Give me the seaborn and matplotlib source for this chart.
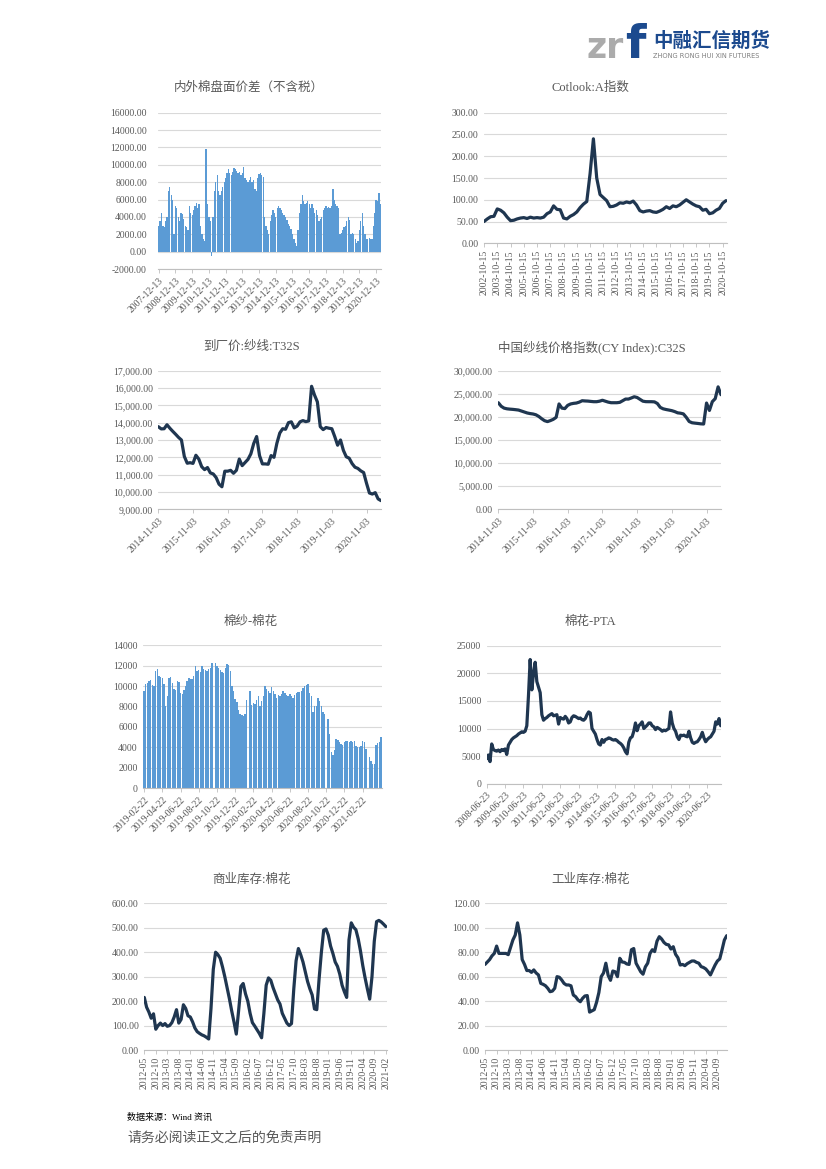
import numpy as np
import pandas as pd
import seaborn as sns
import matplotlib.pyplot as plt

sns.set_theme(style="white")
plt.rcParams['font.family'] = ['Liberation Serif', 'Noto Sans CJK SC', 'DejaVu Sans']
plt.rcParams['axes.unicode_minus'] = False

GRAY = '#595959'
LINE = '#1f3650'
BAR = '#5b9bd5'
GRID = '#d9d9d9'

# 内外棉盘面价差（不含税）, monthly 2007-12 .. 2021-03
spread = [3000,
          3500, 4400, 3000, 2800, 3500, 4000, 7000, 7500, 6500, 6000, 2000, 5300,
          5000, 4000, 3500, 4400, 4300, 3800, 3000, 2800, 2500, 5300, 4500, 4200,
          4800, 5200, 5600, 5000, 5500, 3000, 2000, 1500, 1200, 11800, 5500, 4000,
          3500, -500, 4000, 7000, 8000, 8800, 7000, 6500, 7000, 7500, 8000, 8500,
          9000, 9500, 9000, 8800, 9200, 9600, 9500, 9300, 9000, 9200, 8800, 9000,
          9700, 8500, 8300, 8000, 8200, 8600, 8000, 8300, 7200, 7000, 8500, 8900,
          9000, 8800, 8600, 4000, 3000, 2500, 2000, 3500, 4200, 4800, 4500, 4000,
          5000, 5200, 5000, 4800, 4500, 4200, 4000, 3600, 3200, 3000, 2600, 2000,
          1500, 1000, 600, 2500, 4500, 5500, 6500, 5800, 5500, 5600, 5800, 5500,
          5000, 5500, 5000, 4500, 4800, 4200, 3500, 3800, 4000, 4800, 5000, 5200,
          5000, 5100, 5000, 5200, 7200, 6000, 5500, 5200, 5000, 2000, 2200, 2500,
          2800, 3000, 3500, 4000, 3600, 2000, 2200, 2000, 1500, 1000, 1200, 2500,
          3500, 4500, 3000, 2000, 1500, 1500, 1600, 1400, 1500, 3000, 4500, 6000,
          5800, 6800, 5500]
spread_labels = ['%d-12-13' % y for y in range(2007, 2021)]

# Cotlook:A指数, quarterly 2002-10 .. 2021-01
cotlook = [50, 56, 61, 62, 79, 76, 70, 60, 52, 53,
           56, 58, 59, 57, 60, 58, 59, 58, 60, 68,
           72, 86, 78, 77, 58, 56, 62, 66, 72, 82,
           90, 96, 160, 240, 150, 112, 105, 98, 84, 85,
           88, 93, 92, 95, 93, 97, 88, 75, 72, 74,
           75, 72, 71, 74, 78, 84, 80, 86, 84, 88,
           94, 100, 95, 90, 86, 84, 76, 78, 68, 70,
           76, 80, 92, 98]
cotlook_labels = ['%d-10-15' % y for y in range(2002, 2021)]

# 到厂价:纱线:T32S, monthly 2014-11 .. 2021-04
t32s = [13770, 13640, 13650, 13880, 13680, 13500, 13330, 13150, 13000, 12050,
        11660, 11690, 11650, 12120, 11900, 11460, 11290, 11410, 11100, 11040,
        10830, 10450, 10300, 11200, 11200, 11250, 11080, 11250, 11900, 11520,
        11700, 11880, 12200, 12800, 13200, 12100, 11620, 11620, 11600, 12100,
        12000, 12810, 13400, 13650, 13620, 14000, 14050, 13700, 13800, 14050,
        14120, 14060, 14100, 16100, 15600, 15200, 13770, 13600, 13720, 13680,
        13650, 13200, 12700, 13000, 12400, 12030, 11950, 11640, 11430, 11360,
        11220, 11120, 10500, 9940, 9880, 9960, 9600, 9500]
yarn_labels = ['%d-11-03' % y for y in range(2014, 2021)]

# 中国纱线价格指数(CY Index):C32S, monthly 2014-11 .. 2021-04
cy32 = [23070, 22300, 21900, 21750, 21680, 21630, 21560, 21480, 21270, 21060,
        20850, 20720, 20630, 20460, 20100, 19600, 19180, 18980, 19200, 19470,
        19900, 22800, 21900, 21800, 22500, 22800, 22930, 23000, 23200, 23500,
        23450, 23420, 23350, 23290, 23290, 23400, 23600, 23400, 23200, 23070,
        23070, 23070, 23150, 23500, 23860, 23860, 24100, 24360, 24200, 23800,
        23400, 23300, 23290, 23290, 23250, 22900, 22060, 21750, 21600, 21480,
        21350, 21150, 20880, 20800, 20650, 19900, 19000, 18730, 18650, 18580,
        18500, 18460, 23000, 21400, 23300, 23950, 26500, 24800]

# 棉纱-棉花, weekly 2019-02 .. 2021-04 (None = no data)
yarn_cotton = [9500, 10200, 10300, 10500, 10600, 10100, 10000, 11500, 11700, 11000,
               10900, 10800, 10200, 8000, 9000, 10800, 10900, 10300, 9700, 9600,
               10500, 10400, 9300, 9200, 9600, 10000, 10500, 10800, 10700, 10700,
               11000, 12000, 11500, 11600, 11400, 12000, 11700, 11600, 11500, 11700,
               11800, 12300, None, 12300, 12000, 11800, 11600, 11400, 11300, 11800,
               12200, 12100, 11500, 10000, 9500, 8700, 8400, 7700, 7300, 7200,
               7100, 7300, 8600, None, 9500, 8100, 8300, 8200, 8600, 9000,
               8000, 8500, 9000, 10000, 9700, 9500, 9300, 9900, 9500, 9200,
               8800, 9100, 9000, 9200, 9500, 9300, 9100, 9000, 9200, 9000,
               8800, 9100, 9300, 9400, 9400, 9500, 9800, 10000, 10100, 10200,
               9300, 9000, 7500, 8000, 8000, 8800, 8500, 8000, 7500, 7300,
               None, 6800, 5300, 3500, 3200, 3700, 4800, 4700, 4500, 4300,
               4200, 4500, 4600, 4600, 4500, 4600, 4500, 4600, 4100, 4000,
               4000, 4100, 4600, 4500, 3800, None, 3000, 2600, 2400, 2400,
               4200, 4400, 4500, 5000]
yc_labels = ['2019-02-22', '2019-04-22', '2019-06-22', '2019-08-22', '2019-10-22',
             '2019-12-22', '2020-02-22', '2020-04-22', '2020-06-22', '2020-08-22',
             '2020-10-22', '2020-12-22', '2021-02-22']

# 棉花-PTA, 2008-06 .. 2021-03
cotton_pta = [4500, 5200, 4000, 7200, 6200, 6000, 5900, 6100, 5800, 6200,
              6000, 6300, 5300, 7000, 7500, 8000, 8300, 8500, 8700, 9000,
              9200, 9400, 9300, 9500, 10500, 16000, 22500, 17000, 20000, 22000,
              18500, 17500, 16500, 12500, 11500, 11800, 12000, 12300, 12500, 12700,
              12300, 12400, 12500, 10800, 12000, 11800, 11700, 12200, 11800, 11000,
              11200, 12000, 12300, 12200, 12000, 11800, 11900, 11600, 11500, 11800,
              12500, 13000, 12800, 10000, 9500, 9000, 8000, 7200, 7000, 8000,
              7500, 8000, 8100, 8300, 8200, 8000, 7900, 8000, 7800, 7500,
              7300, 7000, 6500, 5800, 5400, 7500, 8300, 8500, 9500, 11000,
              9600, 10500, 10800, 11200, 10000, 10300, 10600, 11000, 11000, 10500,
              10300, 9800, 10200, 10000, 9800, 9500, 9700, 9600, 9800, 10000,
              13000, 11000, 10000, 9500, 8500, 8000, 8800, 8700, 8800, 8600,
              8500, 9500, 8300, 7500, 7300, 7500, 7600, 8000, 8500, 9300,
              8300, 7600, 8000, 8300, 8500, 9000, 9500, 11200, 10800, 11800,
              10500]
pta_labels = ['%d-06-23' % y for y in range(2008, 2021)]

# 商业库存:棉花, monthly 2012-05 .. 2021-02
comm_inv = [215, 175, 155, 130, 148, 85, 100, 110, 100, 108,
            97, 100, 112, 135, 165, 110, 125, 185, 170, 140,
            135, 115, 90, 75, 68, 62, 58, 52, 45, 170,
            330, 400, 390, 375, 340, 300, 255, 210, 160, 115,
            65, 160, 260, 272, 230, 200, 150, 112, 98, 83,
            68, 50, 150, 265, 295, 285, 255, 230, 205, 188,
            150, 130, 110, 100, 108, 250, 365, 415, 390, 360,
            320, 280, 250, 225, 168, 165, 290, 400, 490, 495,
            470, 425, 395, 360, 342, 310, 265, 238, 215, 450,
            520, 502, 492, 455, 405, 345, 295, 250, 208, 300,
            445, 525, 530, 524, 515, 505]

# 工业库存:棉花, monthly 2012-05 .. 2021-01
ind_inv = [70, 72, 74, 77, 79, 85, 79, 79, 79, 79,
           78, 84, 90, 94, 104, 94, 74, 70, 65, 65,
           63.5, 65.5, 63, 61.4, 54.5, 53.7, 52.6, 50.5, 47.7, 48.2,
           50.5, 60, 59.5, 57.3, 54.5, 53.2, 53.2, 52.5, 45, 43.6,
           41, 39.5, 42.3, 44.2, 44.5, 31, 32, 33, 39, 47,
           60, 63, 71, 61, 57, 64.6, 64, 60, 75, 72,
           71.7, 70.4, 70, 82, 83, 71, 67.5, 64, 62, 68,
           71, 79, 82, 80.5, 89, 92.7, 90.8, 88, 86.4, 86,
           82.6, 84.5, 78.3, 75.5, 69.5, 70, 69, 70.6, 71.7, 72.8,
           72.8, 71.7, 71, 68.2, 67.5, 66.3, 64, 61.4, 65.5, 69.5,
           72.8, 74.5, 82, 90, 93.5]

month_labels = []
for k in range(22):
    m = 4 + 5 * k
    month_labels.append('%d-%02d' % (2012 + m // 12, m % 12 + 1))

fig = plt.figure(figsize=(8.26, 11.69), dpi=100)
W, H = 826.0, 1169.0


def make_ax(x0, x1, ytop, ybot):
    return fig.add_axes([x0 / W, 1 - ybot / H, (x1 - x0) / W, (ybot - ytop) / H])


def style(ax, yticks, fmt, labels, step, xmax, rot, ypad=4):
    ax.set_ylim(yticks[0], yticks[-1])
    ax.set_yticks(yticks)
    ax.set_yticklabels([fmt(v) for v in yticks])
    ax.set_xlim(0, xmax)
    ax.set_xticks(np.arange(len(labels)) * step)
    if rot == 45:
        ax.set_xticklabels(labels, rotation=45, ha='right', rotation_mode='anchor')
    else:
        ax.set_xticklabels(labels, rotation=90)
    ax.grid(axis='y', color=GRID, lw=0.8)
    ax.grid(axis='x', visible=False)
    ax.set_axisbelow(True)
    for s in ['top', 'right', 'left']:
        ax.spines[s].set_visible(False)
    ax.spines['bottom'].set_color('#bfbfbf')
    ax.spines['bottom'].set_linewidth(0.8)
    ax.tick_params(axis='x', length=3, width=0.6, color='#bfbfbf', labelsize=7,
                   labelcolor=GRAY, pad=2, bottom=True)
    ax.tick_params(axis='y', length=0, labelsize=7, labelcolor=GRAY, pad=ypad)
    ax.set_xlabel('')
    ax.set_ylabel('')


def title(x, y, s):
    fig.text(x / W, 1 - y / H, s, fontsize=9, color=GRAY, ha='center', va='center')


def bars(ax, vals, w=0.85):
    df = pd.DataFrame({'i': np.arange(len(vals)), 'v': pd.to_numeric(pd.Series(vals), errors='coerce')})
    sns.barplot(data=df.dropna(), x='i', y='v', native_scale=True, width=w,
                color=BAR, saturation=1, errorbar=None, linewidth=0, ax=ax)


def line(ax, vals):
    sns.lineplot(x=np.arange(len(vals)), y=vals, color=LINE, linewidth=2.3, ax=ax)


f2 = lambda v: '%.2f' % v
fc = lambda v: '{:,.2f}'.format(v)
fi = lambda v: '%d' % v

# panel 1
ax = make_ax(158, 381, 112.7, 269)
bars(ax, spread, 0.92)
style(ax, np.arange(-2000, 16001, 2000), f2, spread_labels, 12, len(spread) - 0.5, 45, ypad=8)
ax.set_xlim(-0.5, len(spread) - 0.5)
title(249, 88, '内外棉盘面价差（不含税）')

# panel 2
ax = make_ax(484, 727, 112.7, 243.3)
line(ax, cotlook)
style(ax, np.arange(0, 301, 50), f2, cotlook_labels, 4, len(cotlook) - 0.7, 90)
title(590, 88, 'Cotlook:A指数')

# panel 3
ax = make_ax(158.3, 381, 370.7, 509.3)
line(ax, t32s)
style(ax, np.arange(9000, 17001, 1000), fc, yarn_labels, 12, len(t32s) - 1, 45)
title(252, 347, '到厂价:纱线:T32S')

# panel 4
ax = make_ax(498.3, 721, 370.7, 509.3)
line(ax, cy32)
style(ax, np.arange(0, 30001, 5000), fc, yarn_labels, 12, len(cy32) - 1, 45)
title(592, 347, '中国纱线价格指数(CY Index):C32S')

# panel 5
ax = make_ax(143.3, 381.7, 645.3, 788)
bars(ax, yarn_cotton)
style(ax, np.arange(0, 14001, 2000), fi, yc_labels, 11, len(yarn_cotton) - 0.5, 45)
ax.set_xlim(-0.5, len(yarn_cotton) - 0.5)
title(251, 622, '棉纱-棉花')

# panel 6
ax = make_ax(486.7, 720.7, 645.7, 783.7)
line(ax, cotton_pta)
style(ax, np.arange(0, 25001, 5000), fi, pta_labels, 11, len(cotton_pta) - 1, 45)
title(590, 622, '棉花-PTA')

# panel 7
ax = make_ax(144.3, 386.7, 903.3, 1050)
line(ax, comm_inv)
style(ax, np.arange(0, 601, 100), f2, month_labels, 5, len(comm_inv) - 0.6, 90)
title(251, 880, '商业库存:棉花')

# panel 8
ax = make_ax(485, 726.7, 903.3, 1050)
line(ax, ind_inv)
style(ax, np.arange(0, 121, 20), f2, month_labels[:21], 5, len(ind_inv) - 1, 90)
title(591, 880, '工业库存:棉花')

# logo
fig.text(587 / W, 1 - 58 / H, 'zr', fontsize=25, fontweight='bold', color='#ababab',
         family='DejaVu Sans', va='baseline')
fig.text(625 / W, 1 - 58 / H, 'f', fontsize=34, fontweight='bold', color='#1c4a8e',
         family='DejaVu Sans', va='baseline')
fig.text(653 / W, 1 - 47 / H, '中融汇信期货', fontsize=14, fontweight='bold', color='#1c4a8e',
         family=['Noto Sans CJK SC', 'DejaVu Sans'], va='baseline')
fig.text(653 / W, 1 - 58.5 / H, 'ZHONG RONG HUI XIN FUTURES', fontsize=4.8, color='#7f7f7f',
         family='DejaVu Sans', va='baseline')

# footer
fig.text(127 / W, 1 - 1117 / H, '数据来源：Wind 资讯', fontsize=6.5, color='black', va='center')
fig.text(127 / W, 1 - 1138 / H, '请务必阅读正文之后的免责声明', fontsize=10, color=GRAY, va='center')

fig.savefig('out.png', dpi=100)
